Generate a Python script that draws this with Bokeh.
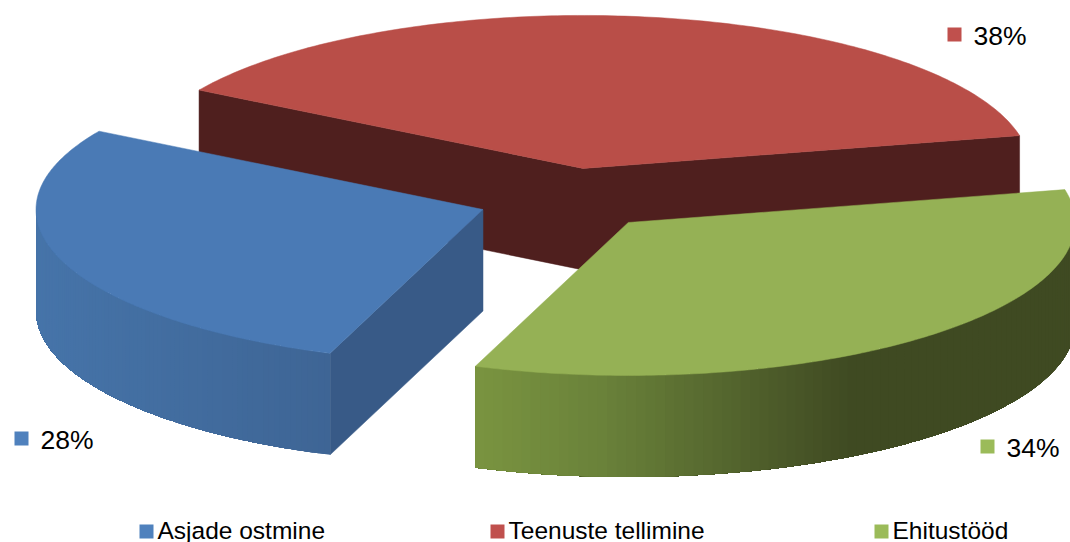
import numpy as np
from bokeh.plotting import figure
from bokeh.models import Range1d
from bokeh.core.properties import value
from bokeh.embed import file_html
from bokeh.resources import INLINE

# ---- data ----
categories = ["Asjade ostmine", "Teenuste tellimine", "Ehitustööd"]
shares = [28, 38, 34]

# ---- styles ----
top_colors = ["#4a7ab5", "#b94e48", "#95b155"]
inner_wall_colors = ["#385a87", "#4f1f1e", "#3f4a22"]
legend_colors = ["#4f81bd", "#c0504d", "#9bbb59"]
wall_stops = [
    [(35, "#4674a9"), (330, "#3e6595")],
    None,
    [(474, "#7a9440"), (600, "#6a823a"), (850, "#3f4a22"), (1075, "#3f4a22")],
]
label_x = [14, 947, 980]
label_y = [439, 35, 447]
legend_x = [139, 490, 874]

# ---- geometry of the 3-D pie ----
CX, CY = 568.0, 198.6
A, B = 447.0, 153.0
DEPTH = 101.5
EXPLODE = 0.203
START = -110.0
FONT = value("Liberation Sans")


def hex2rgb(h):
    return np.array([int(h[i:i + 2], 16) for i in (1, 3, 5)], dtype=float)


def wall_color(stops, x):
    xs = [s[0] for s in stops]
    cols = np.array([hex2rgb(s[1]) for s in stops])
    rgb = [np.interp(x, xs, cols[:, i]) for i in range(3)]
    return "#%02x%02x%02x" % tuple(int(round(c)) for c in rgb)


p = figure(width=1070, height=542, output_backend="svg", toolbar_location=None,
           x_range=Range1d(0, 1070), y_range=Range1d(542, 0),
           x_axis_type=None, y_axis_type=None, min_border=0,
           outline_line_color=None, background_fill_color="white")
p.grid.visible = False

# slice angles, clockwise from START
angles = []
a0 = START
for s in shares:
    a1 = a0 - 360.0 * s / sum(shares)
    angles.append((a0, a1))
    a0 = a1


def apex(a0, a1):
    mid = np.radians((a0 + a1) / 2)
    return CX + EXPLODE * A * np.cos(mid), CY - EXPLODE * B * np.sin(mid)


def arc(ax, ay, t0, t1, n=160):
    t = np.radians(np.linspace(t0, t1, n))
    return ax + A * np.cos(t), ay - B * np.sin(t)


def extrude(px, py, color):
    px, py = np.asarray(px), np.asarray(py)
    p.patch(np.r_[px, px[::-1]], np.r_[py, (py + DEPTH)[::-1]],
            fill_color=color, line_color=color, line_width=0.5)


def outer_wall(ax, ay, t0, t1, stops, n=90):
    # painter's order: every band runs on to the far end of the wall and the
    # next band paints over it, so there are no seams between bands
    x, y = arc(ax, ay, t0, t1, n)
    xs, ys, cs = [], [], []
    for i in range(len(x) - 1):
        xs.append(np.r_[x[i:], x[i:][::-1]])
        ys.append(np.r_[y[i:], (y[i:] + DEPTH)[::-1]])
        cs.append(wall_color(stops, (x[i] + x[i + 1]) / 2))
    p.patches(xs, ys, fill_color=cs, line_color=None)


def top_face(ax, ay, t0, t1, color):
    x, y = arc(ax, ay, t0, t1)
    p.patch(np.r_[ax, x], np.r_[ay, y], fill_color=color, line_color=color, line_width=0.5)


# red slice (back)
(a0, a1) = angles[1]
ax, ay = apex(a0, a1)
x, y = arc(ax, ay, a0, a1)
extrude([x[0], ax, x[-1]], [y[0], ay, y[-1]], inner_wall_colors[1])
top_face(ax, ay, a0, a1, top_colors[1])

# blue slice: visible walls are the outer arc and the radial edge facing right
(a0, a1) = angles[0]
ax, ay = apex(a0, a1)
x, y = arc(ax, ay, a0, a1)
extrude([ax, x[0]], [ay, y[0]], inner_wall_colors[0])
outer_wall(ax, ay, a0, -180, wall_stops[0])
top_face(ax, ay, a0, a1, top_colors[0])

# green slice
(a0, a1) = angles[2]
ax, ay = apex(a0, a1)
outer_wall(ax, ay, -360, a1, wall_stops[2])
top_face(ax, ay, a0, a1, top_colors[2])

# percentage labels with key squares
for i, s in enumerate(shares):
    p.rect([label_x[i] + 7], [label_y[i] - 1], width=14, height=14,
           fill_color=legend_colors[i], line_color=None)
    p.text([label_x[i] + 26], [label_y[i]], text=["%d%%" % s], text_font=FONT,
           text_font_size="26.5px", text_color="black",
           text_baseline="middle", text_align="left")

# legend along the bottom edge
for i, c in enumerate(categories):
    p.rect([legend_x[i] + 7], [531], width=14, height=14,
           fill_color=legend_colors[i], line_color=None)
    p.text([legend_x[i] + 18], [529.5], text=[c], text_font=FONT,
           text_font_size="24.5px", text_color="black",
           text_baseline="middle", text_align="left")

open("out.html", "w").write(file_html(p, INLINE))
